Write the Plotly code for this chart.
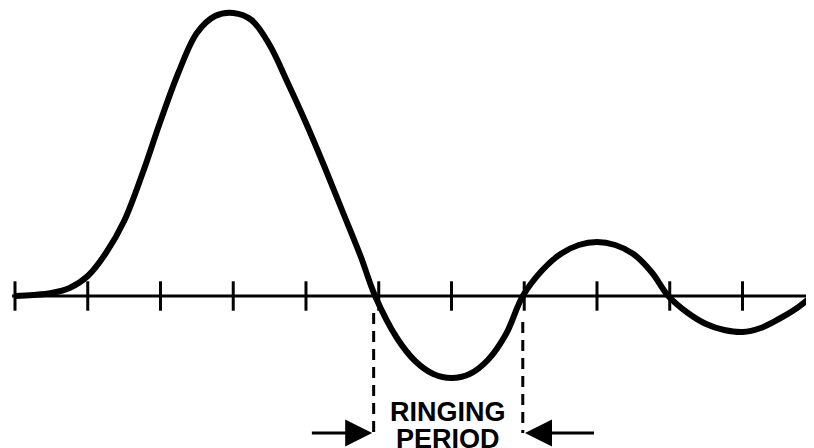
import plotly.graph_objects as go

# Time in tick units, amplitude in arbitrary units
time = [0, 0.25, 0.5, 0.75, 1.0, 1.25, 1.5, 1.75, 2.0, 2.25, 2.5, 2.75, 3.0,
        3.25, 3.5, 3.75, 4.0, 4.25, 4.5, 4.75, 4.95,
        5.25, 5.5, 5.75, 6.0, 6.25, 6.5, 6.75, 6.98,
        7.25, 7.5, 7.75, 8.0, 8.25, 8.5, 8.75, 8.98,
        9.25, 9.5, 9.75, 10.0, 10.25, 10.5, 10.75, 10.96]
amplitude = [0, 1, 3, 8, 20, 43, 75, 122, 175, 224, 263, 280, 283,
             276, 251, 213, 173, 130, 85, 40, 0,
             -42, -65, -78, -82, -78, -64, -38, 0,
             26, 42, 51, 54, 51, 42, 24, 0,
             -17, -28, -34, -36, -32, -23, -12, 0]

tick_positions = [0, 1, 2, 3, 4, 5, 6, 7, 8, 9, 10]
axis_extent = [-0.04, 10.99]

period_start = 4.93
period_end = 6.98
label_lines = ["RINGING", "PERIOD"]

DASH = dict(color="black", width=3, dash="11px,7px")

fig = go.Figure()

# baseline axis
fig.add_trace(go.Scatter(x=axis_extent, y=[0, 0], mode="lines",
                         line=dict(color="black", width=3), hoverinfo="skip"))
# tick marks on the baseline
fig.add_trace(go.Scatter(x=tick_positions, y=[0] * len(tick_positions), mode="markers",
                         marker=dict(symbol="line-ns", size=21,
                                     line=dict(color="black", width=3)),
                         hoverinfo="skip"))
# waveform
fig.add_trace(go.Scatter(x=time, y=amplitude, mode="lines",
                         line=dict(color="black", width=6, shape="spline", smoothing=1.0),
                         hoverinfo="skip"))
# dashed markers of the ringing period
fig.add_trace(go.Scatter(x=[period_start, period_start], y=[-17, -137], mode="lines",
                         line=DASH, hoverinfo="skip"))
fig.add_trace(go.Scatter(x=[period_end, period_end], y=[-26, -137], mode="lines",
                         line=DASH, hoverinfo="skip"))

arrow_y = -137
fig.add_annotation(x=period_start - 0.02, y=arrow_y, ax=period_start - 0.87, ay=arrow_y,
                   xref="x", yref="y", axref="x", ayref="y", text="",
                   showarrow=True, arrowhead=2, arrowsize=1.8, arrowwidth=3, arrowcolor="black")
fig.add_annotation(x=period_end + 0.03, y=arrow_y, ax=period_end + 1.0, ay=arrow_y,
                   xref="x", yref="y", axref="x", ayref="y", text="",
                   showarrow=True, arrowhead=2, arrowsize=1.8, arrowwidth=3, arrowcolor="black")

label_x = 5.95
fig.add_annotation(x=label_x, y=-116, text=f"<b>{label_lines[0]}</b>", showarrow=False,
                   font=dict(family="Liberation Sans", size=27, color="black"))
fig.add_annotation(x=label_x, y=-143, text=f"<b>{label_lines[1]}</b>", showarrow=False,
                   font=dict(family="Liberation Sans", size=27, color="black"))

# ranges compensate the page's 8px body margin so the drawing lands where the reference has it
fig.update_layout(
    width=814, height=448,
    margin=dict(l=0, r=0, t=0, b=0),
    paper_bgcolor="white", plot_bgcolor="white",
    showlegend=False,
    xaxis=dict(range=[-0.0962, 11.093], visible=False, fixedrange=True),
    yaxis=dict(range=[-160, 288], visible=False, fixedrange=True),
)

fig.write_html("out.html", config={"displayModeBar": False})
